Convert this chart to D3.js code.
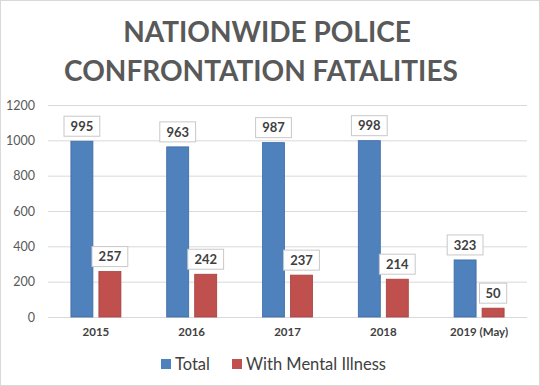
<!DOCTYPE html>
<html>
<head>
<meta charset="utf-8">
<script src="https://cdn.jsdelivr.net/npm/d3@7"></script>
<style>
  body { margin: 0; background: #fff; }
  svg { display: block; font-family: Lato, "Open Sans", sans-serif; }
</style>
</head>
<body>
<div id="chart"></div>
<script>
    const years = ["2015", "2016", "2017", "2018", "2019 (May)"];
    const totalValues = [995, 963, 987, 998, 323];
    const mentalValues = [257, 242, 237, 214, 50];
    const seriesNames = ["Total", "With Mental Illness"];
    const yTicks = [0, 200, 400, 600, 800, 1000, 1200];

    const width = 540, height = 386;
    const margin = { top: 105, right: 13, bottom: 69, left: 48 };

    const svg = d3.select("#chart").append("svg")
        .attr("width", width)
        .attr("height", height);

    // outer frame
    svg.append("rect")
        .attr("x", 0.5).attr("y", 0.5)
        .attr("width", width - 1).attr("height", height - 1)
        .attr("fill", "#fff")
        .attr("stroke", "#d9d9d9");

    // title
    const title = svg.append("text")
        .attr("text-anchor", "middle")
        .attr("fill", "#595959")
        .attr("font-size", 28)
        .attr("font-weight", "bold");
    title.append("tspan").attr("x", 267).attr("y", 42).text("NATIONWIDE POLICE");
    title.append("tspan").attr("x", 261).attr("y", 81).text("CONFRONTATION FATALITIES");

    const x = d3.scaleBand()
        .domain(years)
        .range([margin.left, width - margin.right]);

    const y = d3.scaleLinear()
        .domain([0, 1200])
        .range([height - margin.bottom, margin.top]);

    // gridlines
    svg.append("g")
        .selectAll("line")
        .data(yTicks)
        .enter()
        .append("line")
        .attr("x1", margin.left)
        .attr("x2", width - margin.right)
        .attr("y1", d => y(d) + 0.5)
        .attr("y2", d => y(d) + 0.5)
        .attr("stroke", "#d9d9d9")
        .attr("stroke-width", 1);

    // y axis labels
    const yAxis = svg.append("g")
        .attr("transform", `translate(${margin.left - 13},0)`)
        .call(d3.axisLeft(y).tickValues(yTicks).tickFormat(d3.format("d")).tickSize(0).tickPadding(0));
    yAxis.select(".domain").remove();
    yAxis.selectAll("text")
        .attr("fill", "#595959")
        .attr("font-size", 12.5)
        .attr("font-family", "Lato, sans-serif");

    // x axis labels
    const xAxis = svg.append("g")
        .attr("transform", `translate(0,${height - margin.bottom + 11})`)
        .call(d3.axisBottom(x).tickSize(0).tickPadding(0));
    xAxis.select(".domain").remove();
    xAxis.selectAll("text")
        .attr("fill", "#404040")
        .attr("font-size", 11.5)
        .attr("font-weight", "bold")
        .attr("font-family", "Lato, sans-serif");

    const barW = 22, gap = 6;
    const colors = ["#4f81bd", "#c0504d"];
    const strokes = ["#3a6aa3", "#a53f3c"];
    const series = [totalValues, mentalValues];

    series.forEach((vals, si) => {
        const offset = si === 0 ? -(barW + gap / 2) : gap / 2;
        const g = svg.append("g");
        g.selectAll("rect")
            .data(vals)
            .enter()
            .append("rect")
            .attr("x", (d, i) => x.bandwidth() / 2 + x(years[i]) + offset)
            .attr("y", d => y(d))
            .attr("width", barW)
            .attr("height", d => y(0) - y(d))
            .attr("fill", colors[si])
            .attr("stroke", strokes[si])
            .attr("stroke-width", 0.8);

        // data labels in boxes
        const lbl = g.selectAll(".lbl")
            .data(vals)
            .enter()
            .append("g")
            .attr("class", "lbl")
            .attr("transform", (d, i) =>
                `translate(${x(years[i]) + x.bandwidth() / 2 + offset + barW / 2},${y(d) - 15})`);
        lbl.append("rect")
            .attr("x", d => -(String(d).length * 4.3 + 5))
            .attr("y", -10)
            .attr("width", d => String(d).length * 8.6 + 10)
            .attr("height", 20)
            .attr("fill", "#fff")
            .attr("stroke", "#c8c8c8");
        lbl.append("text")
            .attr("text-anchor", "middle")
            .attr("dy", "0.36em")
            .attr("fill", "#404040")
            .attr("font-size", 13)
            .attr("font-weight", "bold")
            .text(d => d);
    });

    // legend
    const legend = svg.append("g").attr("transform", "translate(0,364)");
    const legendX = [161, 232];
    seriesNames.forEach((name, i) => {
        legend.append("rect")
            .attr("x", legendX[i])
            .attr("y", -5)
            .attr("width", 10)
            .attr("height", 10)
            .attr("fill", colors[i]);
        legend.append("text")
            .attr("x", legendX[i] + 14)
            .attr("dy", "0.36em")
            .attr("fill", "#404040")
            .attr("font-size", 16.5)
            .text(name);
    });
</script>
</body>
</html>
